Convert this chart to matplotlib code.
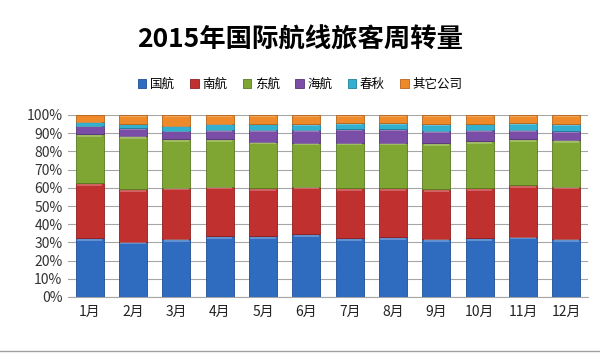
import matplotlib
matplotlib.use('Agg')
import matplotlib.pyplot as plt
import numpy as np
from matplotlib.patches import Patch

plt.rcParams['font.family'] = ['Noto Sans CJK SC', 'DejaVu Sans']

# Data (% share per month)
months = ['1月', '2月', '3月', '4月', '5月', '6月', '7月', '8月', '9月', '10月', '11月', '12月']
airlines = ['国航', '南航', '东航', '海航', '春秋', '其它公司']
guohang  = [32.3, 30.4, 31.9, 33.5, 33.5, 34.6, 32.2, 32.8, 31.9, 32.2, 33.1, 31.9]
nanhang  = [30.2, 28.8, 28.2, 27.1, 26.2, 26.0, 27.5, 26.9, 27.4, 27.5, 28.4, 28.7]
donghang = [26.9, 29.3, 26.7, 26.0, 25.6, 24.2, 25.1, 25.1, 25.1, 26.0, 25.1, 25.7]
haihang  = [4.7, 4.2, 4.6, 5.2, 6.5, 7.0, 7.5, 7.5, 7.0, 6.1, 5.2, 4.9]
chunqiu  = [2.2, 2.2, 2.6, 3.4, 3.2, 3.1, 3.1, 3.1, 3.5, 3.2, 3.6, 3.7]
qita     = [3.7, 5.1, 6.0, 4.8, 5.0, 5.1, 4.6, 4.6, 5.1, 5.0, 4.6, 5.1]

series = [guohang, nanhang, donghang, haihang, chunqiu, qita]
colors = ['#2f6cc0', '#c0302e', '#7fa632', '#7a4ea6', '#33b0d0', '#ee8a2a']
edges = ['#1f4f94', '#8e2020', '#5a7a20', '#553578', '#1f7f9a', '#b86418']

fig = plt.figure(figsize=(6.0, 3.53), dpi=100)
ax = fig.add_axes([68/600, 1-297/353, 520/600, 182/353])

x = np.arange(len(months))
bottom = np.zeros(len(months))
for vals, c, ec in zip(series, colors, edges):
    vals = np.array(vals)
    ax.bar(x, vals, width=0.65, bottom=bottom, color=c, edgecolor=ec, linewidth=0.6, zorder=3)
    # light bevel strip on top of each segment
    strip = np.minimum(vals * 0.12, 1.2)
    ax.bar(x, strip, width=0.58, bottom=bottom + vals - strip - 0.3,
           color='white', alpha=0.25, linewidth=0, zorder=4)
    bottom += vals

ax.set_xlim(-0.5, len(months) - 0.5)
ax.set_ylim(0, 100)
ax.set_yticks(range(0, 101, 10))
ax.set_yticklabels([f'{v}%' for v in range(0, 101, 10)], fontsize=10, color='#333333')
ax.set_xticks(x)
ax.set_xticklabels(months, fontsize=10, color='#222222')
ax.tick_params(axis='both', length=0, pad=6)
ax.tick_params(axis='y', pad=4)
ax.grid(axis='y', color='#a6a6a6', linewidth=0.8, zorder=0)
for s in ['top', 'right', 'left']:
    ax.spines[s].set_visible(False)
ax.spines['bottom'].set_color('#a6a6a6')

fig.text(0.5, 1-40/353, '2015年国际航线旅客周转量', ha='center', va='center',
         fontsize=19, fontweight='bold')

handles = [Patch(facecolor=c, edgecolor=ec, linewidth=0.6) for c, ec in zip(colors, edges)]
fig.legend(handles, airlines, loc='center', bbox_to_anchor=(0.5, 1-84/353), ncol=6,
           frameon=False, fontsize=9, handlelength=0.7, handleheight=0.7,
           handletextpad=0.3, columnspacing=1.2)

fig.add_artist(plt.Line2D([0, 1], [1-351/353, 1-351/353], color='#a0a0a0', linewidth=1.0))

fig.savefig('out.png', dpi=100)
